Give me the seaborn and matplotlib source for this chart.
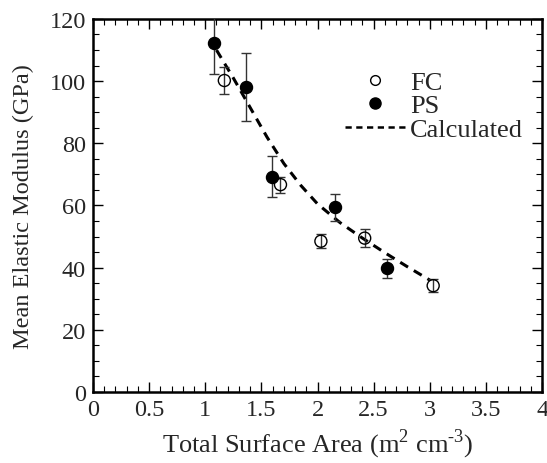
import matplotlib
matplotlib.use("Agg")
import matplotlib.pyplot as plt
import seaborn as sns
import numpy as np
import pandas as pd
from matplotlib.lines import Line2D
from matplotlib.ticker import MultipleLocator, FuncFormatter

# Data
fc_x = [1.17, 1.67, 2.03, 2.42, 3.03]
fc_y = [100.2, 66.7, 48.5, 49.5, 34.2]
fc_err = [4.5, 2.6, 2.3, 3.0, 2.0]

ps_x = [1.08, 1.36, 1.59, 2.16, 2.62]
ps_y = [112.3, 98.1, 69.3, 59.4, 39.8]
ps_err = [10.0, 11.0, 6.5, 4.3, 3.0]

calc_x = [1.10, 1.25, 1.40, 1.55, 1.70, 1.85, 2.00, 2.20, 2.40, 2.60, 2.80, 3.00]
calc_y = [110.0, 101.0, 91.5, 82.0, 73.5, 66.5, 60.5, 54.5, 49.5, 44.8, 40.3, 36.0]

sns.set_theme(style="ticks")
plt.rcParams['font.family'] = ['Liberation Serif', 'DejaVu Serif']
plt.rcParams['mathtext.fontset'] = 'custom'
plt.rcParams['mathtext.rm'] = 'Liberation Serif'

fig = plt.figure(figsize=(5.47, 4.64), dpi=100)
ax = fig.add_axes([0.170, 0.153, 0.821, 0.804])

calc_df = pd.DataFrame({"x": calc_x, "y": calc_y})
sns.lineplot(data=calc_df, x="x", y="y", ax=ax, color="black", lw=2.2,
             linestyle=(0, (3, 2.2)), zorder=2)

ax.errorbar(ps_x, ps_y, yerr=ps_err, fmt="none", ecolor="#333333", elinewidth=1.0,
            capsize=3.5, capthick=1.0, zorder=3)
ax.errorbar(fc_x, fc_y, yerr=fc_err, fmt="none", ecolor="#333333", elinewidth=1.0,
            capsize=3.5, capthick=1.0, zorder=3)

sns.scatterplot(x=ps_x, y=ps_y, ax=ax, marker="o", s=75, color="black",
                edgecolor="black", linewidth=1.0, zorder=4)
sns.scatterplot(x=fc_x, y=fc_y, ax=ax, marker="o", s=75, facecolor="none",
                edgecolor="black", linewidth=1.0, zorder=4)

ax.set_xlim(0, 4)
ax.set_ylim(0, 120)
ax.xaxis.set_major_locator(MultipleLocator(0.5))
ax.xaxis.set_minor_locator(MultipleLocator(0.1))
ax.yaxis.set_major_locator(MultipleLocator(20))
ax.yaxis.set_minor_locator(MultipleLocator(5))
ax.xaxis.set_major_formatter(FuncFormatter(lambda v, p: f"{v:g}"))
ax.yaxis.set_major_formatter(FuncFormatter(lambda v, p: f"{v:g}"))
ax.tick_params(which="both", direction="in", top=True, right=True, color="black")
ax.tick_params(which="major", length=7, width=1.0, labelsize=17.5, pad=5)
ax.tick_params(which="minor", length=4, width=0.8)
for s in ax.spines.values():
    s.set_linewidth(1.8)
    s.set_color("black")

ax.set_xlabel("Total Surface Area (m$^2$ cm$^{\\text{-}3}$)", fontsize=19, labelpad=5)
ax.set_ylabel("Mean Elastic Modulus (GPa)", fontsize=17.5, labelpad=11)

handles = [
    Line2D([], [], marker="o", linestyle="none", markerfacecolor="white",
           markeredgecolor="black", markersize=7),
    Line2D([], [], marker="o", linestyle="none", markerfacecolor="black",
           markeredgecolor="black", markersize=8),
    Line2D([], [], color="black", lw=1.8, linestyle=(0, (2.5, 1.8))),
]
ax.legend(handles, ["FC", "PS", "Calculated"], loc="upper left",
          bbox_to_anchor=(0.537, 0.89), frameon=False, fontsize=19,
          handlelength=2.3, handletextpad=0.18, labelspacing=0.0,
          borderaxespad=0.0)

fig.savefig("out.png", dpi=100)
